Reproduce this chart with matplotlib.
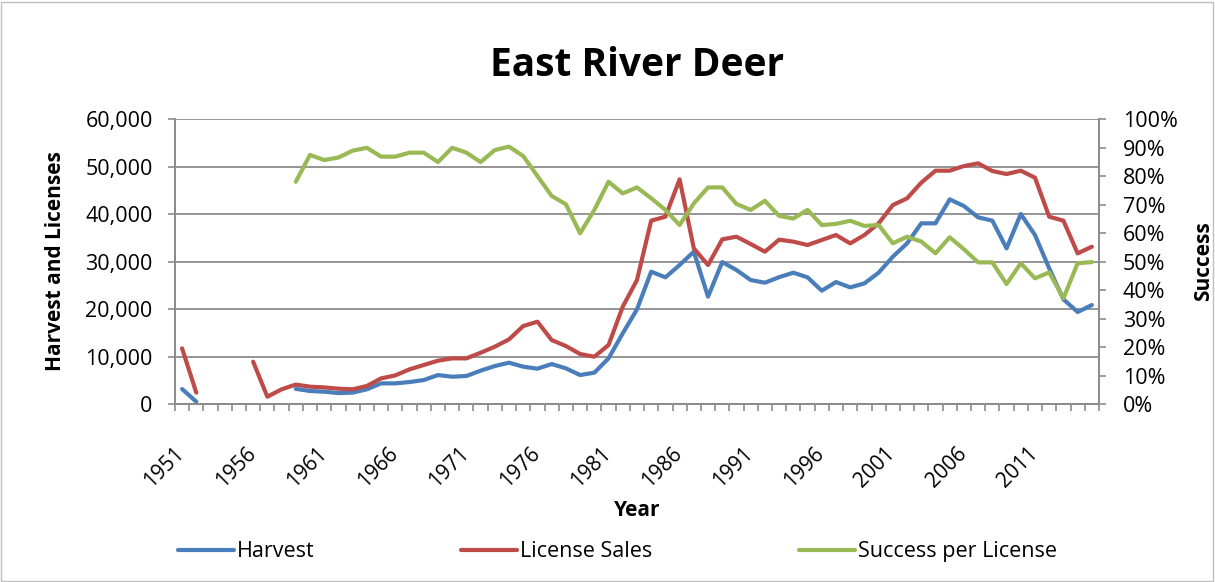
import numpy as np
import matplotlib
matplotlib.use("Agg")
import matplotlib.pyplot as plt
from matplotlib.patches import Rectangle
from matplotlib.ticker import FuncFormatter
from matplotlib.transforms import ScaledTranslation

plt.rcParams['font.family'] = ['Open Sans', 'DejaVu Sans']

# data
years = list(range(1951, 2016))
nan = np.nan
harvest = [3160, 490, nan, nan, nan, nan, nan, nan, 3200,
           2740, 2600, 2300, 2400, 3100, 4350, 4350, 4630, 5050, 6100,
           5750, 5900, 7020, 8000, 8700, 7860, 7440, 8420, 7510, 6100,
           6600, 9610, 14880, 19930, 27860, 26670, 29260, 32070, 22600, 29890,
           28210, 26100, 25540, 26700, 27650, 26670, 23860, 25680, 24560, 25400,
           27650, 31020, 33820, 38040, 38040, 43090, 41680, 39300, 38600, 32770,
           40000, 35580, 28560, 22040, 19370, 20840]
licenses = [11720, 2390, nan, nan, nan, 8910, 1540, 3090, 4100,
            3650, 3500, 3230, 3100, 3800, 5400, 6030, 7300, 8210, 9120,
            9610, 9610, 10800, 12070, 13610, 16420, 17330, 13470, 12210, 10530,
            9960, 12420, 20490, 26100, 38600, 39440, 47300, 32770, 29260, 34670,
            35230, 33680, 32070, 34600, 34180, 33470, 34530, 35580, 33820, 35580,
            38040, 41890, 43300, 46600, 49120, 49120, 50100, 50670, 49050, 48420,
            49120, 47650, 39440, 38600, 31720, 33120]
success = [nan, nan, nan, nan, nan, nan, nan, nan, 78.0,
           87.4, 85.6, 86.5, 88.9, 89.9, 86.8, 86.8, 88.2, 88.2, 84.9,
           89.9, 88.2, 84.9, 89.1, 90.3, 87.0, 80.0, 73.0, 70.1, 59.9,
           68.1, 78.0, 73.9, 76.0, 72.2, 68.1, 62.8, 70.4, 76.0, 76.0,
           70.2, 68.1, 71.3, 66.0, 65.1, 68.1, 62.8, 63.2, 64.3, 62.5,
           62.8, 56.4, 58.7, 57.0, 52.9, 58.5, 54.3, 49.7, 49.7, 42.1,
           49.4, 44.1, 46.2, 37.1, 49.4, 49.8]

blue = '#4A7EBB'
red = '#BE4B48'
green = '#98B954'
gray = '#8C8C8C'

fig = plt.figure(figsize=(12.15, 5.82), dpi=100)
ax = fig.add_axes([0.144, 0.3058, 0.7605, 0.4897])
ax2 = ax.twinx()

x = np.arange(len(years))
kw = dict(lw=3, solid_capstyle='round', solid_joinstyle='round')
l1, = ax.plot(x, harvest, color=blue, **kw)
l2, = ax.plot(x, licenses, color=red, **kw)
l3, = ax2.plot(x, success, color=green, **kw)

ax.set_xlim(-0.5, len(years) - 0.5)
ax.set_ylim(0, 60000)
ax2.set_ylim(0, 100)

ax.set_yticks(range(0, 60001, 10000))
ax.yaxis.set_major_formatter(FuncFormatter(lambda v, p: f'{int(v):,}'))
ax2.set_yticks(range(0, 101, 10))
ax2.yaxis.set_major_formatter(FuncFormatter(lambda v, p: f'{int(v)}%'))

# ticks at every category boundary, labels every five years
ax.set_xticks(np.arange(-0.5, len(years), 1.0))
ax.set_xticklabels([])
lab_idx = list(range(0, len(years), 5))
ax.set_xticks(lab_idx, minor=True)
ax.set_xticklabels([str(years[i]) for i in lab_idx], minor=True,
                   rotation=45, ha='right', rotation_mode='anchor', fontsize=15)
ax.tick_params(axis='x', which='major', length=5, color=gray, width=1.2)
ax.tick_params(axis='x', which='minor', length=0, pad=28)
ax.tick_params(axis='y', length=5, color=gray, width=1.2, labelsize=15.5, pad=11)
ax2.tick_params(axis='y', length=5, color=gray, width=1.2, labelsize=15.5, pad=12)

# nudge the year labels a little to the left
shift = ScaledTranslation(-8 / 100, 0, fig.dpi_scale_trans)
for t in ax.get_xticklabels(minor=True):
    t.set_transform(t.get_transform() + shift)

ax.grid(axis='y', color=gray, lw=1.3)
ax.set_axisbelow(True)
for a in (ax, ax2):
    a.spines['top'].set_visible(False)
    for s in ('left', 'right', 'bottom'):
        a.spines[s].set_color(gray)
        a.spines[s].set_linewidth(1.3)

ax.set_title('East River Deer', fontsize=28, fontweight='bold', pad=31)
ax.set_xlabel('Year', fontsize=15, fontweight='bold', labelpad=6)
ax.set_ylabel('Harvest and Licenses', fontsize=15, fontweight='bold', labelpad=14)
ax2.set_ylabel('Success', fontsize=15, fontweight='bold', labelpad=11)

fig.legend([l1, l2, l3], ['Harvest', 'License Sales', 'Success per License'],
           loc='center', bbox_to_anchor=(0.508, 0.052), ncol=3, frameon=False,
           fontsize=15.5, handlelength=2.6, handletextpad=0.15, columnspacing=6.8)

fig.patches.append(Rectangle((0.001, 0.002), 0.997, 0.995, transform=fig.transFigure,
                             fill=False, edgecolor='#BFBFBF', lw=1))

fig.savefig('out.png', dpi=100)
